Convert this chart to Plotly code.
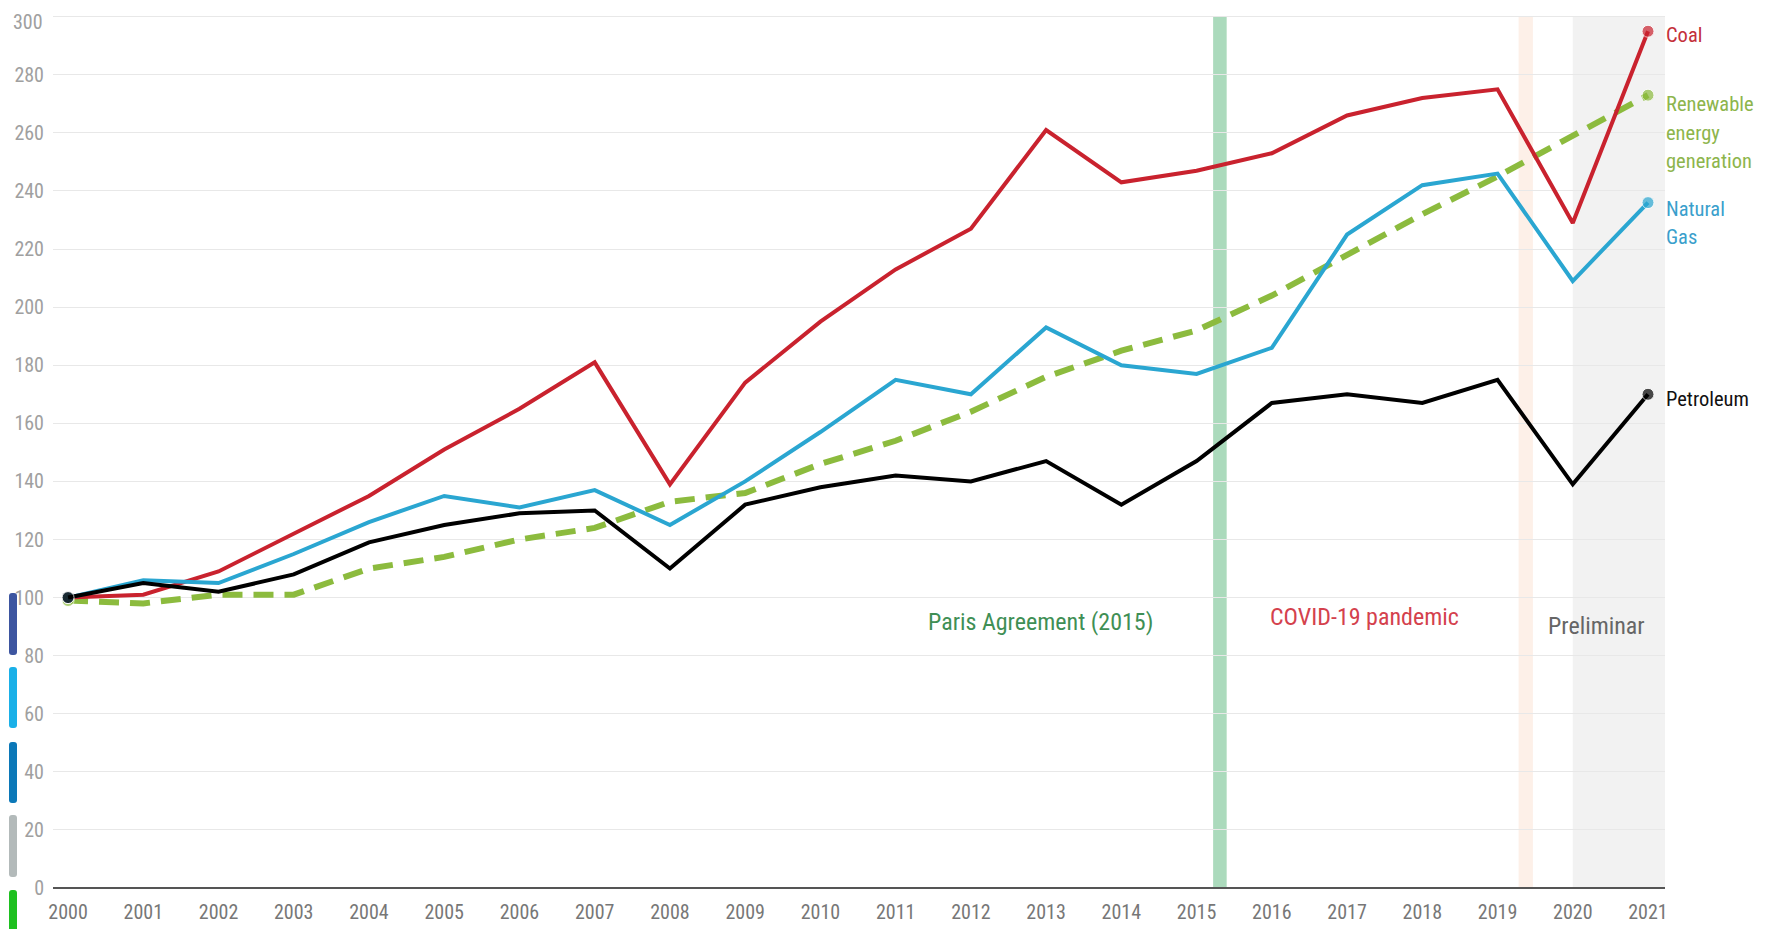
import plotly.graph_objects as go

years = list(range(2000, 2022))
coal = [100, 101, 109, 122, 135, 151, 165, 181, 139, 174, 195, 213, 227, 261, 243, 247, 253, 266, 272, 275, 229, 295]
natural_gas = [100, 106, 105, 115, 126, 135, 131, 137, 125, 140, 157, 175, 170, 193, 180, 177, 186, 225, 242, 246, 209, 236]
petroleum = [100, 105, 102, 108, 119, 125, 129, 130, 110, 132, 138, 142, 140, 147, 132, 147, 167, 170, 167, 175, 139, 170]
renewable = [99, 98, 101, 101, 110, 114, 120, 124, 133, 136, 146, 154, 164, 176, 185, 192, 204, 218, 232, 245, 259, 273]

series_names = ["Renewable energy generation", "Coal", "Natural Gas", "Petroleum"]
series_colors = {"Coal": "#c9222e", "Natural Gas": "#2aa6d1", "Petroleum": "#000000",
                 "Renewable energy generation": "#8cbb3e"}
label_colors = {"Coal": "#c4303a", "Natural Gas": "#3a9fcc", "Petroleum": "#111111",
                "Renewable energy generation": "#8db54c"}
end_label_lines = {"Coal": ["Coal"],
                   "Renewable energy generation": ["Renewable", "energy", "generation"],
                   "Natural Gas": ["Natural", "Gas"], "Petroleum": ["Petroleum"]}
y_ticks = list(range(0, 301, 20))

W, H = 1768, 929
OFF = 8  # page body offset
L, R, T, B = 45, 111, 7, 49
pw, ph = W - L - R, H - T - B
Y_MAX = 300.6


def px_x(sx):
    return (sx - OFF - L) / pw


def px_y(sy):
    return (H - B - (sy - OFF)) / ph


FONT = "Roboto Condensed, Liberation Sans Narrow, Roboto, sans-serif"
TICK_GREY = "#a0a0a0"

fig = go.Figure()
data = {"Coal": coal, "Natural Gas": natural_gas, "Petroleum": petroleum,
        "Renewable energy generation": renewable}
for name in series_names:
    vals = data[name]
    ren = name.startswith("Renewable")
    sizes = [12] + [0] * (len(vals) - 2) + [12]
    fig.add_trace(go.Scatter(
        x=years, y=vals, name=name, mode="lines+markers",
        line=dict(color=series_colors[name], width=6 if ren else 4,
                  dash="20px,11px" if ren else "solid"),
        marker=dict(size=sizes, color=series_colors[name]),
        showlegend=False, cliponaxis=False,
    ))

# end labels, one annotation per text line (screen pixel centres)
label_screen_y = {"Coal": [35], "Renewable energy generation": [104, 133, 161],
                  "Natural Gas": [209, 237], "Petroleum": [399]}
for name in series_names:
    for line, sy in zip(end_label_lines[name], label_screen_y[name]):
        fig.add_annotation(x=px_x(1664), xref="paper", y=px_y(sy), yref="paper",
                           text=line, showarrow=False, xanchor="left", yanchor="middle",
                           font=dict(family=FONT, size=20.5, color=label_colors[name]))

# shaded bands
fig.add_shape(type="rect", xref="x", yref="paper", x0=2015.22, x1=2015.40, y0=0, y1=px_y(16),
              fillcolor="#abdabc", line_width=0, layer="below")
fig.add_shape(type="rect", xref="x", yref="paper", x0=2019.28, x1=2019.47, y0=0, y1=px_y(16),
              fillcolor="#fdf0e8", line_width=0, layer="below")
fig.add_shape(type="rect", xref="x", yref="paper", x0=2020, x1=2021.226, y0=0, y1=px_y(16),
              fillcolor="#f2f2f2", line_width=0, layer="below")

# event annotations
fig.add_annotation(x=2012.93, y=91.7, xref="x", yref="y", text="Paris Agreement (2015)",
                   showarrow=False, font=dict(family=FONT, size=24, color="#3f8f55"))
fig.add_annotation(x=2017.23, y=93.3, xref="x", yref="y", text="COVID-19 pandemic",
                   showarrow=False, font=dict(family=FONT, size=24, color="#d4414d"))
fig.add_annotation(x=2020.31, y=90.2, xref="x", yref="y", text="Preliminar",
                   showarrow=False, font=dict(family=FONT, size=24, color="#666666"))

# top tick label drawn as an annotation kept inside the page
fig.add_annotation(x=px_x(45), xref="paper", y=px_y(OFF), yref="paper",
                   text=str(y_ticks[-1]), showarrow=False, xanchor="right", yanchor="top",
                   font=dict(family=FONT, size=20, color=TICK_GREY))

# decorative colored bars on far left (screen pixels), rounded corners
bar_colors = ["#3d55a0", "#1ab0e8", "#0b78b8", "#b3baba", "#1ec020"]
bar_pix = [(593, 655), (667, 728), (742, 803), (815, 877), (890, 952)]
bw, rr = 8, 3
for c, (p0, p1) in zip(bar_colors, bar_pix):
    hh = (p1 - p0) / 2
    hw = bw / 2
    path = (f"M {-hw} {-hh + rr} L {-hw} {hh - rr} Q {-hw} {hh} {-hw + rr} {hh} "
            f"L {hw - rr} {hh} Q {hw} {hh} {hw} {hh - rr} L {hw} {-hh + rr} "
            f"Q {hw} {-hh} {hw - rr} {-hh} L {-hw + rr} {-hh} Q {-hw} {-hh} {-hw} {-hh + rr} Z")
    fig.add_shape(type="path", xref="paper", yref="paper",
                  xsizemode="pixel", ysizemode="pixel",
                  xanchor=px_x(13), yanchor=px_y((p0 + p1) / 2),
                  path=path, fillcolor=c, line_width=0, layer="above")

fig.update_layout(
    width=W, height=H,
    margin=dict(l=L, r=R, t=T, b=B),
    plot_bgcolor="white", paper_bgcolor="white",
    font=dict(family=FONT, size=16, color="#888888"),
)
fig.update_xaxes(range=[1999.80, 2021.226], tickmode="array", tickvals=years,
                 ticktext=[str(y) for y in years], showgrid=False, zeroline=False,
                 showline=False, tickfont=dict(size=20, color="#777777"), ticks="",
                 ticklabelstandoff=10, automargin=False, ticklabeloverflow="allow")
fig.update_yaxes(range=[0, Y_MAX], tickmode="array", tickvals=y_ticks,
                 ticktext=[str(v) for v in y_ticks[:-1]] + [""], showgrid=True,
                 gridcolor="#e8e8e8", gridwidth=1, zeroline=True, zerolinecolor="#555555",
                 zerolinewidth=2, showline=False, tickfont=dict(size=20, color=TICK_GREY),
                 ticks="", ticklabelstandoff=8, automargin=False, ticklabeloverflow="allow")

fig.write_html("out.html")
